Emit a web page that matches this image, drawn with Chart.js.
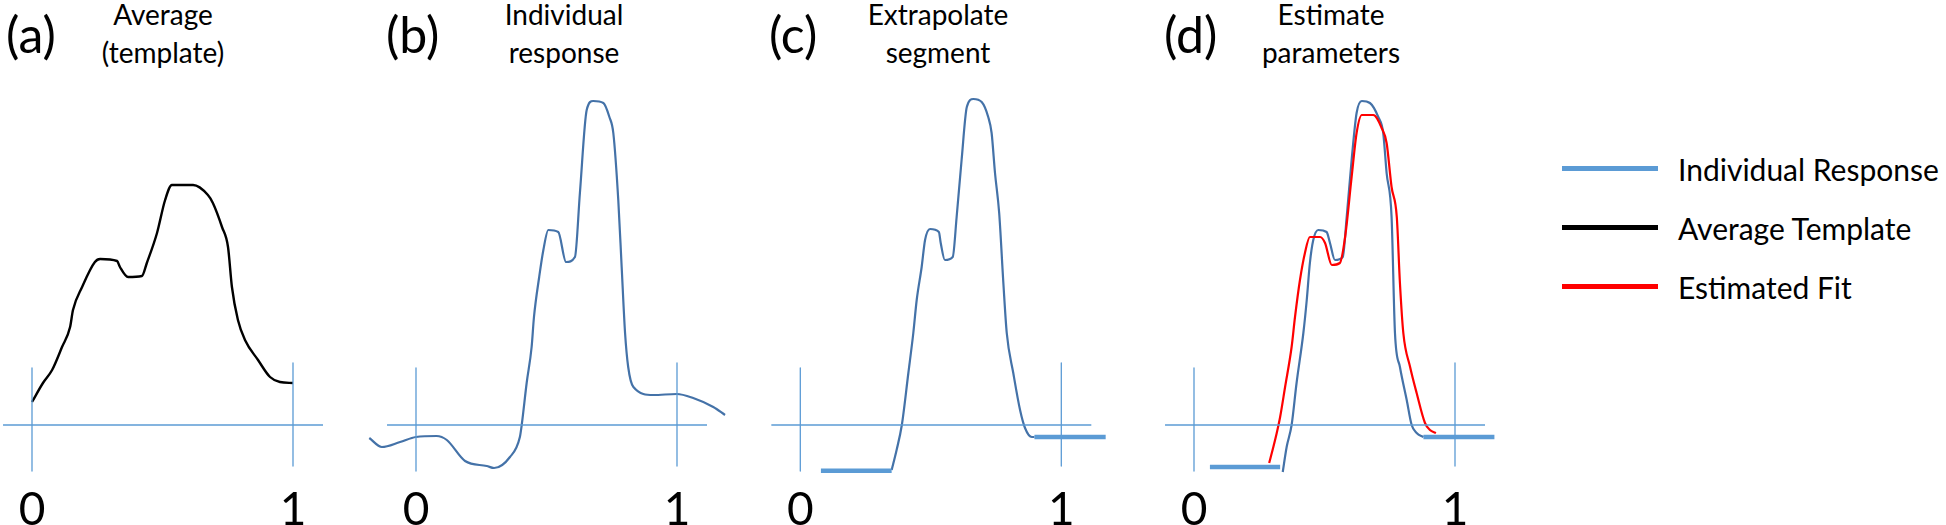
<!DOCTYPE html>
<html>
<head>
<meta charset="utf-8">
<script src="https://cdn.jsdelivr.net/npm/chart.js@4.4.0/dist/chart.umd.min.js"></script>
<style>
  body { margin: 0; background: #fff; width: 1946px; height: 525px; overflow: hidden; position: relative; font-family: Lato, "Open Sans", sans-serif; color: #000; }
  .panel { position: absolute; top: 0; height: 525px; }
  .tag { position: absolute; top: 9px; font-size: 50px; line-height: 50px; }
  .title { position: absolute; top: -5px; width: 240px; margin-left: -120px; text-align: center; font-size: 28px; line-height: 38px; }
  .legend { position: absolute; left: 1562px; top: 0; }
  .legend .row { position: absolute; left: 0; width: 400px; height: 40px; }
  .legend .swatch { position: absolute; left: 0; top: 17px; width: 96px; height: 5px; }
  .legend .txt { position: absolute; left: 116px; top: 0; font-size: 30px; line-height: 40px; white-space: nowrap; }
</style>
</head>
<body>

<div class="tag" style="left:6px">(a)</div>
<div class="title" style="left:163px">Average<br>(template)</div>
<div class="tag" style="left:386px">(b)</div>
<div class="title" style="left:564px">Individual<br>response</div>
<div class="tag" style="left:769px">(c)</div>
<div class="title" style="left:938px">Extrapolate<br>segment</div>
<div class="tag" style="left:1164px">(d)</div>
<div class="title" style="left:1331px">Estimate<br>parameters</div>

<canvas id="chartA" class="panel" style="left:0px" width="340" height="525"></canvas>
<canvas id="chartB" class="panel" style="left:340px" width="400" height="525"></canvas>
<canvas id="chartC" class="panel" style="left:740px" width="400" height="525"></canvas>
<canvas id="chartD" class="panel" style="left:1140px" width="400" height="525"></canvas>

<div class="legend">
  <div class="row" style="top:149px"><div class="swatch" style="background:#5B9BD5"></div><div class="txt">Individual Response</div></div>
  <div class="row" style="top:208px"><div class="swatch" style="background:#000"></div><div class="txt">Average Template</div></div>
  <div class="row" style="top:267px"><div class="swatch" style="background:#FF0000"></div><div class="txt">Estimated Fit</div></div>
</div>

<script>
// --- Dados ---
// eixo x normalizado: 0 = início do segmento, 1 = fim

// (a) template médio
const avgX = [0, 0.042, 0.077, 0.115, 0.146, 0.157, 0.192, 0.241, 0.261, 0.326, 0.337, 0.368, 0.421, 0.44, 0.479, 0.51, 0.536, 0.617, 0.674, 0.693, 0.728, 0.751, 0.766, 0.789, 0.816, 0.866, 0.912, 0.95, 1.0];
const avgY = [0.23, 0.42, 0.55, 0.78, 0.98, 1.15, 1.38, 1.63, 1.66, 1.64, 1.58, 1.48, 1.49, 1.62, 1.92, 2.25, 2.40, 2.40, 2.30, 2.22, 1.98, 1.78, 1.38, 1.05, 0.85, 0.65, 0.48, 0.43, 0.42];

// (b) resposta individual
const indX = [-0.179, -0.131, -0.061, 0, 0.079, 0.118, 0.188, 0.271, 0.299, 0.36, 0.398, 0.405, 0.424, 0.443, 0.452, 0.472, 0.488, 0.507, 0.545, 0.575, 0.609, 0.628, 0.654, 0.679, 0.718, 0.741, 0.756, 0.775, 0.788, 0.801, 0.813, 0.833, 0.909, 0.999, 1.062, 1.139, 1.184];
const indY = [-0.13, -0.22, -0.17, -0.12, -0.11, -0.15, -0.36, -0.41, -0.43, -0.32, -0.12, 0, 0.42, 0.78, 1.08, 1.48, 1.75, 1.95, 1.93, 1.63, 1.68, 2.32, 3.15, 3.24, 3.22, 3.08, 2.92, 2.25, 1.58, 0.92, 0.58, 0.38, 0.30, 0.31, 0.27, 0.18, 0.10];

// (c) segmento extrapolado
const segX = [0.35, 0.369, 0.389, 0.414, 0.433, 0.446, 0.465, 0.478, 0.497, 0.531, 0.538, 0.554, 0.584, 0.599, 0.618, 0.638, 0.663, 0.695, 0.72, 0.733, 0.746, 0.762, 0.778, 0.791, 0.816, 0.842, 0.861, 0.887, 0.897];
const segY = [-0.45, -0.25, 0, 0.52, 0.92, 1.25, 1.58, 1.85, 1.96, 1.93, 1.82, 1.65, 1.68, 2.08, 2.65, 3.18, 3.26, 3.23, 3.08, 2.92, 2.52, 2.12, 1.42, 0.92, 0.52, 0.15, -0.03, -0.12, -0.12];
const segPreX = [0.079, 0.35];
const segPreY = [-0.457, -0.457];
const segPostX = [0.897, 1.17];
const segPostY = [-0.12, -0.12];

// (d) resposta vs ajuste estimado
const respX = [0.34, 0.355, 0.374, 0.393, 0.419, 0.432, 0.444, 0.457, 0.476, 0.508, 0.521, 0.54, 0.57, 0.585, 0.604, 0.623, 0.643, 0.674, 0.706, 0.725, 0.738, 0.757, 0.77, 0.789, 0.815, 0.834, 0.853, 0.879];
const respY = [-0.47, -0.22, 0, 0.42, 0.92, 1.25, 1.62, 1.85, 1.95, 1.93, 1.82, 1.65, 1.68, 2.08, 2.65, 3.12, 3.24, 3.22, 3.08, 2.92, 2.52, 2.08, 0.92, 0.58, 0.25, 0, -0.08, -0.12];
const respPreX = [0.061, 0.33];
const respPreY = [-0.42, -0.42];
const respPostX = [0.879, 1.151];
const respPostY = [-0.12, -0.12];
const fitX = [0.288, 0.304, 0.317, 0.33, 0.349, 0.374, 0.387, 0.406, 0.425, 0.444, 0.483, 0.502, 0.528, 0.559, 0.579, 0.604, 0.623, 0.643, 0.687, 0.719, 0.738, 0.757, 0.777, 0.789, 0.802, 0.828, 0.853, 0.885, 0.904, 0.927];
const fitY = [-0.38, -0.22, -0.08, 0.08, 0.38, 0.78, 1.08, 1.45, 1.72, 1.88, 1.88, 1.82, 1.60, 1.62, 1.88, 2.48, 2.92, 3.10, 3.10, 2.97, 2.82, 2.38, 2.08, 1.42, 0.92, 0.58, 0.32, 0.02, -0.05, -0.08];

// eixos em cruz (linhas azuis finas)
const crossHX = [-0.111, 1.115];
const crossV0Y = [0.57, -0.46];
const crossV1Y = [0.62, -0.41];
const tickValues = [0, 1];

// --- Estilos ---
const AXIS_BLUE = '#5B9BD5';
const CURVE_BLUE = '#4472A8';

function pts(xs, ys) {
    return xs.map((x, i) => ({ x: x, y: ys[i] }));
}

function crossDatasets() {
    const base = { borderColor: AXIS_BLUE, borderWidth: 1.3, pointRadius: 0, tension: 0 };
    return [
        { ...base, data: pts(crossHX, [0, 0]) },
        { ...base, data: pts([0, 0], crossV0Y) },
        { ...base, data: pts([1, 1], crossV1Y) }
    ];
}

function curve(xs, ys, color, width) {
    return { data: pts(xs, ys), borderColor: color, borderWidth: width, pointRadius: 0, tension: 0.3, cubicInterpolationMode: 'monotone' };
}

function flat(xs, ys) {
    return { data: pts(xs, ys), borderColor: AXIS_BLUE, borderWidth: 4.5, pointRadius: 0, tension: 0, borderCapStyle: 'butt' };
}

// cria um painel; x0px = posição (dentro do canvas) do valor x=0
function makePanel(id, x0px, width, datasets) {
    const pxPerUnit = 261;
    return new Chart(document.getElementById(id), {
        type: 'line',
        data: { datasets: crossDatasets().concat(datasets) },
        options: {
            responsive: false,
            animation: false,
            layout: { padding: 0 },
            plugins: { legend: { display: false }, tooltip: { enabled: false } },
            elements: { line: { borderJoinStyle: 'round' } },
            scales: {
                x: {
                    type: 'linear',
                    min: -x0px / pxPerUnit,
                    max: (width - x0px) / pxPerUnit,
                    grid: { display: false },
                    border: { display: false },
                    afterBuildTicks: axis => { axis.ticks = tickValues.map(v => ({ value: v })); },
                    afterFit: axis => { axis.height = 50; },
                    ticks: { color: '#000', padding: 0, maxRotation: 0, font: { family: 'Lato', size: 46 } }
                },
                y: { display: false, min: -0.5, max: 4.25 }
            }
        }
    });
}

makePanel('chartA', 32, 340, [curve(avgX, avgY, '#000', 2.4)]);
makePanel('chartB', 76, 400, [curve(indX, indY, CURVE_BLUE, 2.2)]);
makePanel('chartC', 60.3, 400, [
    flat(segPreX, segPreY),
    flat(segPostX, segPostY),
    curve(segX, segY, CURVE_BLUE, 2.2)
]);
makePanel('chartD', 54, 400, [
    flat(respPreX, respPreY),
    flat(respPostX, respPostY),
    curve(fitX, fitY, '#FF0000', 2.2),
    curve(respX, respY, CURVE_BLUE, 2.2)
]);
</script>
</body>
</html>
